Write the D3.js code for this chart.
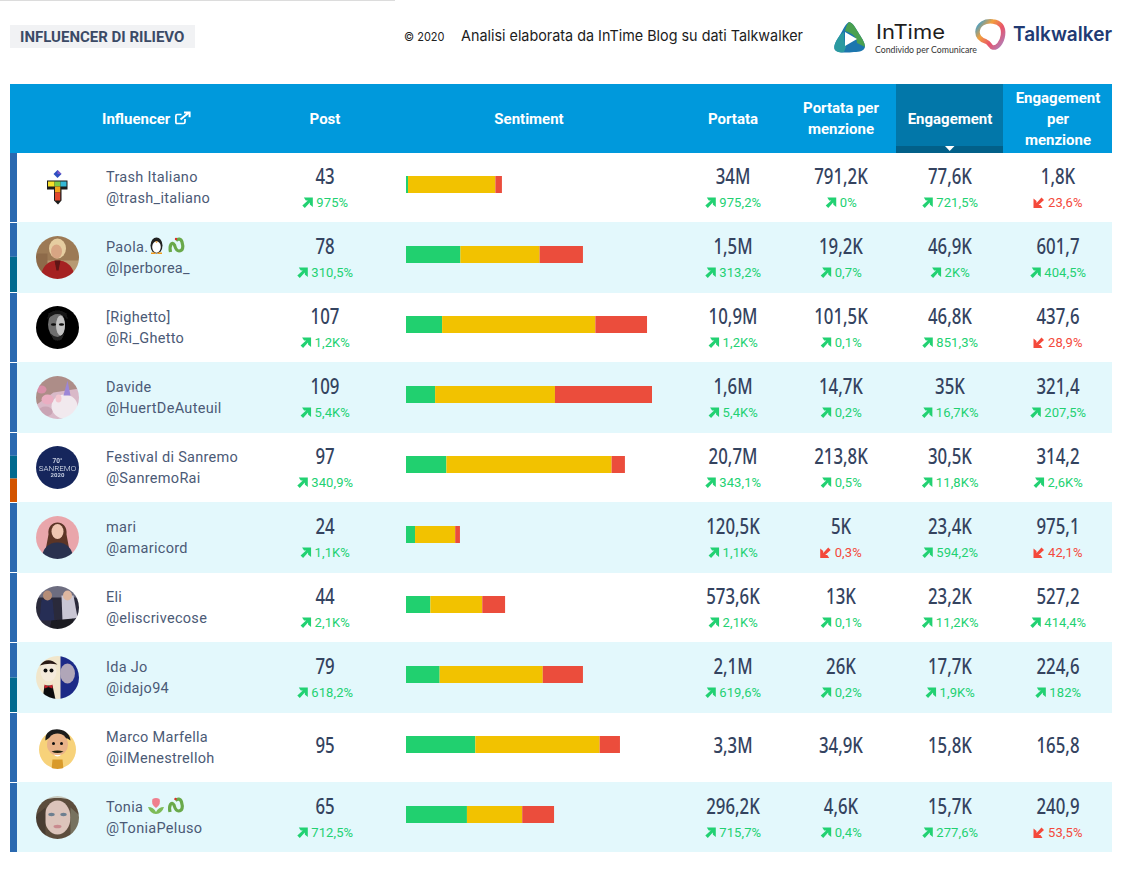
<!DOCTYPE html>
<html><head><meta charset="utf-8">
<script src="https://cdn.jsdelivr.net/npm/d3@7"></script>
<style>
html,body{margin:0;padding:0;background:#fff;}
svg{display:block;}
text{font-family:Roboto,sans-serif;}
</style></head><body>
<div id="c"></div>
<script>
// ---------- data ----------
const names = ["Trash Italiano","Paola.","[Righetto]","Davide","Festival di Sanremo","mari","Eli","Ida Jo","Marco Marfella","Tonia"];
const handles = ["@trash_italiano","@lperborea_","@Ri_Ghetto","@HuertDeAuteuil","@SanremoRai","@amaricord","@eliscrivecose","@idajo94","@ilMenestrelloh","@ToniaPeluso"];
const posts = [43,78,107,109,97,24,44,79,95,65];
const postsDelta = ["975%","310,5%","1,2K%","5,4K%","340,9%","1,1K%","2,1K%","618,2%",null,"712,5%"];
const positive = [0.9,24.1,16,12.9,17.9,4,10.8,14.9,30.7,27];
const neutral  = [38.7,35.1,67.9,53.1,73.2,17.8,23,45.7,55.1,24.5];
const negative = [2.9,19.2,22.9,43,5.9,2.1,10.1,17.8,9,14.1];
const reach = ["34M","1,5M","10,9M","1,6M","20,7M","120,5K","573,6K","2,1M","3,3M","296,2K"];
const reachDelta = ["975,2%","313,2%","1,2K%","5,4K%","343,1%","1,1K%","2,1K%","619,6%",null,"715,7%"];
const reachPer = ["791,2K","19,2K","101,5K","14,7K","213,8K","5K","13K","26K","34,9K","4,6K"];
const reachPerDelta = ["0%","0,7%","0,1%","0,2%","0,5%","-0,3%","0,1%","0,2%",null,"0,4%"];
const engagement = ["77,6K","46,9K","46,8K","35K","30,5K","23,4K","23,2K","17,7K","15,8K","15,7K"];
const engagementDelta = ["721,5%","2K%","851,3%","16,7K%","11,8K%","594,2%","11,2K%","1,9K%",null,"277,6%"];
const engagementPer = ["1,8K","601,7","437,6","321,4","314,2","975,1","527,2","224,6","165,8","240,9"];
const engagementPerDelta = ["-23,6%","404,5%","-28,9%","207,5%","2,6K%","-42,1%","414,4%","182%",null,"-53,5%"];
const headers = [["Post"],["Sentiment"],["Portata"],["Portata per","menzione"],["Engagement"],["Engagement","per","menzione"]];
const headerCols = ["post","sentiment","reach","reachPer","engagement","engagementPer"];
const stripBands = [[1],[.49,.51],[1],[1],[.33,.33,.34],[1],[1],[.5,.5],[1],[1]];
const stripColors = ["#2a69b0","#016a8f","#d35400"];
const sentimentColors = {positive:"#21d06f",neutral:"#f2c200",negative:"#eb4d3c"};

// ---------- layout ----------
const W=1122,H=870;
const svg=d3.select("#c").append("svg").attr("width",W).attr("height",H);
const INK="#34435f", SOFT="#4b5a76", UP="#22d172", DOWN="#f4493b";
const y=d3.scaleBand().domain(d3.range(names.length)).range([153,853]);
const x=d3.scaleLinear().domain([0,109]).range([406,652]);
const cx={post:325,sentiment:529,reach:733,reachPer:841,engagement:950,engagementPer:1058};
const defs=svg.append("defs");
defs.append("filter").attr("id","soft").append("feGaussianBlur").attr("stdDeviation",.55);

// top rule + title
svg.append("rect").attr("x",0).attr("y",0).attr("width",395).attr("height",1).attr("fill","#dcdcdc");
svg.append("rect").attr("x",10).attr("y",25).attr("width",185).attr("height",23).attr("fill","#f1f2f4");
svg.append("text").attr("x",20).attr("y",42).attr("font-size",15).attr("font-weight",700).attr("fill","#3b4a66").text("INFLUENCER DI RILIEVO");
svg.append("text").attr("x",404).attr("y",41).attr("font-size",12).attr("fill","#222").style("font-family","Inter").attr("textLength",40.5).attr("lengthAdjust","spacingAndGlyphs").text("© 2020");
svg.append("text").attr("x",461).attr("y",41).attr("font-size",15).attr("fill","#1c1c1c").style("font-family","Inter").attr("textLength",342).attr("lengthAdjust","spacingAndGlyphs").text("Analisi elaborata da InTime Blog su dati Talkwalker");

// logos
const lg=svg.append("g").attr("transform","translate(834,22)");
lg.append("path").attr("d","M15 0 C19 1 21 5 24 10 C27 15 31 20 31 25 C30 29 26 30 20 30 C12 31 4 31 1 28 C-1 24 2 19 6 13 C9 8 11 2 15 0Z").attr("fill","#1c76ae");
lg.append("path").attr("d","M15 0 C19 1 21 5 24 10 C27 15 31 20 31 25 L23 21 C23 15 18 11 11 9 C12 5 13 2 15 0Z").attr("fill","#4aa04f");
lg.append("path").attr("d","M1 28 C-1 24 2 19 6 13 L10 10 C10 16 10 20 12 25 L10 30 C6 31 3 30 1 28Z").attr("fill","#2b9aa0");
lg.append("path").attr("d","M11 10 L23 17 L11 24Z").attr("fill","#fff");
svg.append("text").attr("x",876).attr("y",39).attr("font-size",20).attr("fill","#1d1d1d").style("font-family","Inter").attr("textLength",69).attr("lengthAdjust","spacingAndGlyphs").text("InTime");
svg.append("text").attr("x",875).attr("y",53).attr("font-size",9).attr("fill","#333").style("font-family","Lato").attr("textLength",102).attr("lengthAdjust","spacingAndGlyphs").text("Condivido per Comunicare");
const tk=svg.append("g").attr("transform","translate(975,19)");
const grad=defs.append("linearGradient").attr("id","tw").attr("x1",0).attr("y1",0).attr("x2",1).attr("y2",.8);
grad.append("stop").attr("offset","0").attr("stop-color","#2a9fdc");
grad.append("stop").attr("offset",".35").attr("stop-color","#f2a03d");
grad.append("stop").attr("offset",".7").attr("stop-color","#e8536a");
grad.append("stop").attr("offset","1").attr("stop-color","#b978ad");
tk.append("path").attr("d","M2.5 13 C3 5 10 1.5 18 2.5 C25 3 29 8 28 16 C27 24 22 29 18 28.5 C15 28 15 24 11 22.5 C6 21 2.5 18 2.5 13Z").attr("fill","#fff").attr("stroke","url(#tw)").attr("stroke-width",4.5);
svg.append("text").attr("x",1013).attr("y",41).attr("font-size",19.5).attr("font-weight",600).attr("fill","#213a73").style("font-family","Inter").attr("textLength",99).attr("lengthAdjust","spacingAndGlyphs").text("Talkwalker");

// header
svg.append("rect").attr("x",10).attr("y",84).attr("width",1102).attr("height",69).attr("fill","#0099dc");
svg.append("rect").attr("x",896).attr("y",84).attr("width",107).attr("height",69).attr("fill","#0277a9");
svg.append("rect").attr("x",896).attr("y",146).attr("width",107).attr("height",7).attr("fill","#026089");
svg.append("path").attr("d","M945 146 L954.5 146 L949.7 151Z").attr("fill","#fff");
const hg=svg.append("g");
headers.forEach((lines,i)=>lines.forEach((t,k)=>hg.append("text").attr("x",cx[headerCols[i]]).attr("y",123.5+(k-(lines.length-1)/2)*21)
    .attr("text-anchor","middle").attr("font-size",15).attr("font-weight",700).attr("fill","#fff").text(t)));
hg.append("text").attr("x",102).attr("y",123.5).attr("font-size",15).attr("font-weight",700).attr("fill","#fff").text("Influencer");
const ext=hg.append("g").attr("transform","translate(175,111.5)").attr("fill","none").attr("stroke","#fff");
ext.append("path").attr("d","M10 7.5 V10.5 Q10 12 8.5 12 H2 Q.9 12 .9 10.5 V4.5 Q.9 3 2 3 H6.5").attr("stroke-width",1.7);
ext.append("path").attr("d","M5.5 8 L14 .9 M9 .9 H14.6 V5.8").attr("stroke-width",2);

// rows
const rows=svg.append("g").selectAll("g").data(names).join("g").attr("transform",(d,i)=>`translate(0,${y(i)})`);
const rh=y.bandwidth();
rows.append("rect").attr("x",17).attr("y",(d,i)=>i%2?-1:0).attr("width",1095).attr("height",(d,i)=>i===9?70:(i%2?71:70)).attr("fill",(d,i)=>i%2?"#e3f8fc":"#fff");

// left strip
rows.each(function(d,i){
  const g=d3.select(this); let t=0;
  const bh=rh-1;
  stripBands[i].forEach((s,k)=>{
    g.append("rect").attr("x",10).attr("y",t).attr("width",7).attr("height",s*bh).attr("fill",stripColors[k]);
    t+=s*bh;
  });
});

// names
rows.append("text").attr("class","nm").attr("x",106).attr("y",29).attr("font-size",14.5).attr("letter-spacing",.3).attr("fill",SOFT).text(d=>d);
rows.append("text").attr("x",106).attr("y",50).attr("font-size",14.5).attr("letter-spacing",.3).attr("fill",SOFT).text((d,i)=>handles[i]);

// sentiment bars through d3.stack
const table=names.map((d,i)=>({i,positive:positive[i],neutral:neutral[i],negative:negative[i]}));
const stack=d3.stack().keys(["positive","neutral","negative"])(table);
svg.append("g").selectAll("g").data(stack).join("g").attr("fill",s=>sentimentColors[s.key])
  .selectAll("rect").data(s=>s).join("rect")
  .attr("x",d=>x(d[0])).attr("width",d=>x(d[1])-x(d[0]))
  .attr("y",d=>y(d.data.i)+23).attr("height",17);

// metric columns
const columns=[["post",posts,postsDelta],["reach",reach,reachDelta],["reachPer",reachPer,reachPerDelta],["engagement",engagement,engagementDelta],["engagementPer",engagementPer,engagementPerDelta]];
columns.forEach(([key,vals,deltas])=>{
  const g=svg.append("g");
  vals.forEach((v,i)=>{
    const top=y(i), hasD=deltas[i]!==null;
    g.append("text").attr("x",cx[key]).attr("y",top+(hasD?31:40)).attr("text-anchor","middle")
     .attr("font-size",21).attr("font-weight",500).attr("fill",INK)
     .style("font-family","'Noto Sans',Lato").attr("transform",`translate(${cx[key]},0) scale(.8,1) translate(${-cx[key]},0)`).text(v);
    if(!hasD) return;
    const down=deltas[i][0]==="-"; const label=down?deltas[i].slice(1):deltas[i];
    const col=down?DOWN:UP;
    const t=g.append("text").attr("y",top+54).attr("font-size",13).attr("letter-spacing",.1).attr("fill",col).text(label);
    const w=t.node().getComputedTextLength();
    const left=cx[key]-(w+14.5)/2;
    t.attr("x",left+14.5);
    g.append("path").attr("transform",`translate(${left},${top+44.5})`+(down?" rotate(180 5.5 5.25)":""))
     .attr("fill",col).attr("d","M2 0 H11 V9.5 L8 7 V5 L3 10.5 L.5 8 L6 3 H4Z");
  });
});

// avatars – simplified portraits
const R=21.5, ax=57.5;
rows.each(function(d,i){
  const g=d3.select(this).append("g").attr("transform",`translate(${ax},${34.5})`);
  const id="av"+i;
  defs.append("clipPath").attr("id",id).append("circle").attr("r",R);
  const c=g.append("g").attr("clip-path",`url(#${id})`).append("g").attr("filter","url(#soft)");
  const disc=f=>c.append("circle").attr("r",R+1).attr("fill",f);
  const p=(dd,f)=>c.append("path").attr("d",dd).attr("fill",f);
  const e=(x0,y0,rx,ry,f)=>c.append("ellipse").attr("cx",x0).attr("cy",y0).attr("rx",rx).attr("ry",ry).attr("fill",f);
  if(i===0){ // rainbow cross on white
    p("M-10.5 -7 H10 V2 H4 V13 L0.5 17 L-3.5 13 V2 H-10.5Z","#1a1a1a");
    p("M-9.5 -6 H-3 V-1 H-9.5Z","#f7e02a");
    p("M-3 -6 H3 V-1 H-3Z","#7ccb4a");
    p("M3 -6 H9 V-1 H3Z","#35b8d6");
    p("M-2.5 -1 H2.8 V5 H-2.5Z","#f2a51f");
    p("M-2.5 5 H2.8 V13 H-2.5Z","#e2472f");
    p("M0 -17.5 L4 -13.5 L0 -9.5 L-4 -13.5Z","#2f4fc0");
    p("M0 -17.5 L4 -13.5 L0 -13.5Z","#7a55c8");
  } else if(i===1){
    disc("#b79a73");
    p("M-22 -22 H22 V3 H-22Z","#9c7a55");
    p("M-22 -4 H-10 V22 H-22Z","#8d6a4a");
    e(0,-9,8.5,10,"#e6cda0"); e(-1,-6,5.5,7,"#d8a583");
    p("M-17 22 C-16 7 -8 3 0 3 C8 3 16 7 18 22Z","#a52322");
    p("M-3 3 L3 3 L1 13 H-1Z","#5e1414");
  } else if(i===2){
    disc("#050505");
    e(-1,-3,8.5,13,"#6e6e6e"); e(3,-2,4.5,10,"#c2c2c2");
    p("M-10 -8 Q0 -19 10 -8 L9 -14 Q0 -20 -9 -14Z","#161616");
    e(-4,-3,2.6,1.2,"#0c0c0c"); e(4,-3,2.6,1.2,"#0c0c0c");
    p("M-7 6 Q0 13 7 6 L4 12 Q0 14 -4 12Z","#222");
  } else if(i===3){
    disc("#d9b9c8");
    p("M-22 -22 H22 V-9 L-4 -5 L-22 8Z","#ad8d88");
    e(7,9,13,12,"#f1e9ee"); e(-10,2,6,5,"#eaaec2"); e(-16,-8,5,4,"#d88fa8"); e(-12,14,7,5,"#c9a4b4");
    p("M6 -2 L10 -17 L13 -2Z","#9c86d6");
    e(1,1,3,4,"#f3c6cf");
  } else if(i===4){
    disc("#12265c");
    c.append("text").attr("text-anchor","middle").attr("y",-5).attr("font-size",6.5).attr("font-weight",700).attr("fill","#c8cde0").text("70°");
    c.append("text").attr("text-anchor","middle").attr("y",3).attr("font-size",8).attr("font-weight",300).attr("fill","#e6e8f2").text("SANREMO");
    c.append("text").attr("text-anchor","middle").attr("y",9.5).attr("font-size",6).attr("font-weight",700).attr("fill","#c8cde0").text("2020");
  } else if(i===5){
    disc("#e9a6ab");
    p("M-9 -3 C-11 -19 11 -19 9 -3 L12 13 H-12Z","#5b3527");
    e(0,-6,6,7.5,"#efc6b2");
    p("M-16 22 C-15 8 -6 5 0 5 C6 5 15 8 16 22Z","#2a324f");
  } else if(i===6){
    disc("#2c2a3a");
    p("M-22 -22 H22 V-10 H-22Z","#6d6d80");
    p("M-16 -8 L-5 -8 L-3 13 L-18 13Z","#262e55");
    p("M4 -12 L16 -12 L20 10 L5 14Z","#c9c6d4");
    e(-10,-12,4.5,5,"#b58d77"); e(10,-12,4.5,5,"#ddb7a0");
    p("M-8 22 L16 22 L16 11 L-6 13Z","#1a1a22");
  } else if(i===7){
    disc("#f1e6cb");
    p("M3 -22 H22 V22 H3Z","#1f2a87");
    e(-9,-6,8,10,"#f4eadb"); e(10,-4,7.5,10,"#b0a6b8");
    p("M-18 -12 Q-10 -22 0 -13 Q-9 -15 -18 -12Z","#2b1a16");
    p("M-15 22 L-13 8 L-5 8 L-2 22Z","#111");
    p("M-13 7 L-9 9 L-5 7 L-5 11 L-9 9.5 L-13 11Z","#c8202a");
    e(-12,-7,2,2,"#111"); e(-6,-7,2,2,"#111");
  } else if(i===8){
    e(0,2,18.5,19,"#f7d27a");
    p("M-12 -7 C-14 -22 12 -22 13 -7 L10 -9 L-9 -9Z","#1c1c1c");
    e(0,-3,10.5,11,"#e9b389");
    p("M-6 4 Q0 2 6 4 Q0 7 -6 4Z","#221");
    p("M-4 7 Q0 11 4 7 Q0 8 -4 7Z","#fff");
    e(-4,-4,1.5,1.5,"#111"); e(4,-4,1.5,1.5,"#111");
    p("M-5 12 H5 L6 22 H-6Z","#d99a2b");
  } else {
    disc("#c7c9bd");
    p("M-22 -12 C-14 -22 14 -22 22 -12 V22 H-22Z","#5d4d3e");
    e(0,0,13,17,"#dcc4bb");
    e(-6,-3,3.2,1.7,"#6d7f90"); e(6,-3,3.2,1.7,"#6d7f90");
    e(0,9,4,1.8,"#c98a8e");
    p("M-22 -2 L-12 -10 L-12 22 L-22 22Z","#4a3c30");
    p("M22 -2 L13 -10 L13 22 L22 22Z","#77725f");
  }
});

// small glyphs after the names
const snake=(row,dx)=>{
  const s=rows.filter((d,k)=>k===row).append("g").attr("transform",`translate(${dx},14)`);
  s.append("path").attr("d","M2.5 15 C1 8 4 4 6.5 8 C7.5 11 8 14 11 14 C15 14 15.5 10 14 5 C13 1.5 10 1.5 8 3.5").attr("fill","none").attr("stroke","#69a94a").attr("stroke-width",3.2);
  s.append("circle").attr("cx",8).attr("cy",2).attr("r",1.2).attr("fill","#d9302a");
};
const pen=rows.filter((d,k)=>k===1).append("g").attr("transform","translate(149,14)");
pen.append("ellipse").attr("cx",7.5).attr("cy",8.5).attr("rx",6).attr("ry",8).attr("fill","#222");
pen.append("ellipse").attr("cx",7.5).attr("cy",10).attr("rx",4.3).attr("ry",5.8).attr("fill","#fff");
pen.append("path").attr("d","M2 15.5 H6.5 V17 H2Z M8.5 15.5 H13 V17 H8.5Z").attr("fill","#f39b1e");
pen.append("path").attr("d","M6 4.5 H9 L7.5 6Z").attr("fill","#f39b1e");
snake(1,168);
const tul=rows.filter((d,k)=>k===9).append("g").attr("transform","translate(148,14)");
tul.append("path").attr("d","M4.5 2 Q8 0 11.5 2 Q13.5 7 8 11 Q2.5 7 4.5 2Z").attr("fill","#ef7f8e");
tul.append("path").attr("d","M0 10 Q5.5 10 8 15 Q10.5 10 16 10 Q14 16.5 8 17 Q2 16.5 0 10Z").attr("fill","#7dbb57");
snake(9,167.5);
</script>
</body></html>
